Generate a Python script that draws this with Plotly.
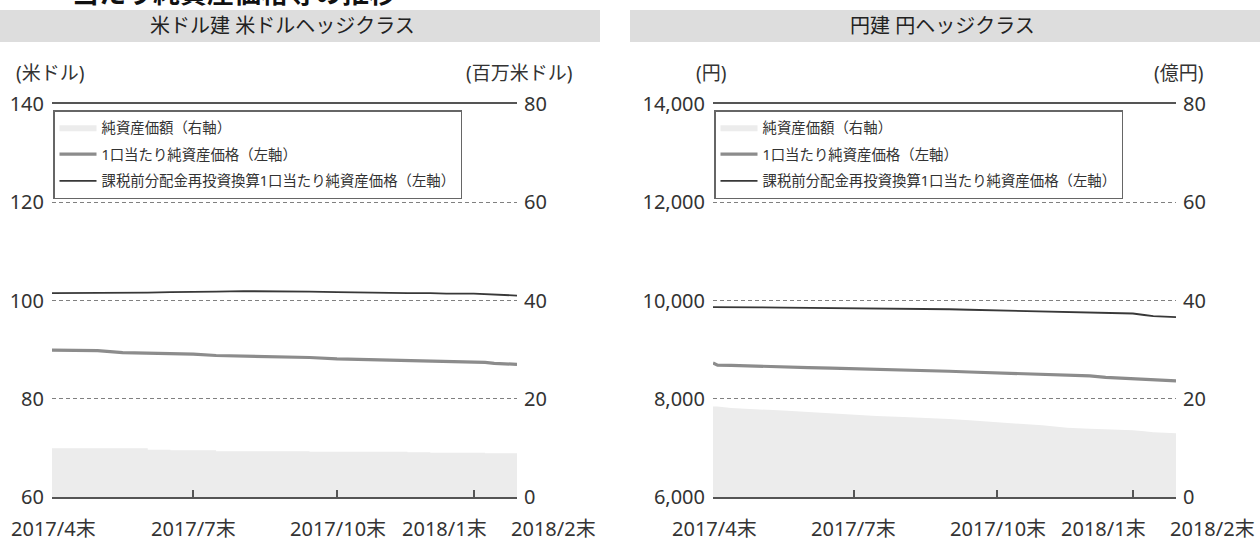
import plotly.graph_objects as go

# ---------------- data ----------------
DATES = ["2017-04-28", "2017-05-02", "2017-05-15", "2017-05-31", "2017-06-15", "2017-06-30",
         "2017-07-14", "2017-07-31", "2017-08-15", "2017-08-31", "2017-09-15", "2017-09-29",
         "2017-10-13", "2017-10-31", "2017-11-15", "2017-11-30", "2017-12-15", "2017-12-29",
         "2018-01-15", "2018-01-31", "2018-02-07", "2018-02-14", "2018-02-28"]

# Japanese market holidays falling on weekdays (non-trading days on the axis)
HOLIDAYS = ["2017-05-03", "2017-05-04", "2017-05-05", "2017-07-17", "2017-08-11",
            "2017-09-18", "2017-10-09", "2017-11-03", "2017-11-23", "2018-01-01",
            "2018-01-02", "2018-01-03", "2018-01-08", "2018-02-12"]

# 米ドル建 米ドルヘッジクラス
USD_ASSETS = [9.9, 9.9, 9.9, 9.9, 9.9, 9.6, 9.5, 9.5, 9.3, 9.3, 9.3, 9.3,
              9.2, 9.2, 9.2, 9.2, 9.1, 9.0, 9.0, 9.0, 8.9, 8.9, 8.9]          # 百万米ドル (right)
USD_NAV = [89.9, 89.9, 89.9, 89.8, 89.4, 89.3, 89.2, 89.1, 88.8, 88.7, 88.6, 88.5,
           88.4, 88.1, 88.0, 87.9, 87.8, 87.7, 87.6, 87.5, 87.4, 87.2, 87.0]  # 米ドル (left)
USD_REINV = [101.5, 101.5, 101.6, 101.6, 101.5, 101.6, 101.7, 101.7, 101.8, 101.9, 101.9, 101.8,
             101.8, 101.7, 101.6, 101.6, 101.5, 101.5, 101.4, 101.4, 101.3, 101.1, 101.0]

# 円建 円ヘッジクラス
JPY_ASSETS = [18.4, 18.4, 18.1, 17.9, 17.6, 17.3, 17.0, 16.7, 16.5, 16.3, 16.1, 15.9,
              15.6, 15.3, 14.9, 14.6, 14.1, 13.9, 13.8, 13.6, 13.4, 13.2, 13.0]  # 億円 (right)
JPY_NAV = [8730, 8685, 8680, 8660, 8645, 8635, 8625, 8615, 8605, 8590, 8575, 8560,
           8545, 8530, 8515, 8505, 8490, 8465, 8435, 8410, 8400, 8385, 8365]     # 円 (left)
JPY_REINV = [9865, 9863, 9862, 9860, 9855, 9852, 9850, 9848, 9845, 9840, 9830, 9822,
             9812, 9800, 9790, 9780, 9765, 9750, 9742, 9735, 9705, 9680, 9660]

XTICK_DATES = ["2017-04-28", "2017-07-31", "2017-10-31", "2018-01-31", "2018-02-28"]
XTICK_LABELS = ["2017/4末", "2017/7末", "2017/10末", "2018/1末", "2018/2末"]
XTICK_SHIFTS = [1, 0, 1, -29, 36]

USD_TICKS = [60, 80, 100, 120, 140]
JPY_TICKS = [6000, 8000, 10000, 12000, 14000]
RIGHT_TICKS = [0, 20, 40, 60, 80]

LEGEND_NAMES = ["純資産価額（右軸）", "1口当たり純資産価格（左軸）",
                "課税前分配金再投資換算1口当たり純資産価格（左軸）"]
PANEL_TITLES = ["米ドル建 米ドルヘッジクラス", "円建 円ヘッジクラス"]
UNITS_LEFT = ["(米ドル)", "(円)"]
UNITS_RIGHT = ["(百万米ドル)", "(億円)"]
TOP_TITLE = "当たり純資産価格等の推移"

# ---------------- style ----------------
W, H = 1260, 543
FONT = "Noto Sans, Noto Sans CJK JP, sans-serif"
TXT = "#333333"
AREA = "#ececec"
GRAY_LINE = "#8c8c8c"
DARK_LINE = "#383838"
AXIS_C = "#555555"
GRID_C = "#808080"

PX_LEFT = [(52, 517), (713, 1176)]
Y_TOP, Y_BOT = 104, 497
ydom = [1 - Y_BOT / H, 1 - Y_TOP / H]

fig = go.Figure()

panels = [
    dict(x="x", yl="y", yr="y2", leg="legend", assets=USD_ASSETS, nav=USD_NAV, reinv=USD_REINV, shape="hv"),
    dict(x="x2", yl="y3", yr="y4", leg="legend2", assets=JPY_ASSETS, nav=JPY_NAV, reinv=JPY_REINV, shape="linear"),
]

for p in panels:
    fig.add_trace(go.Scatter(
        x=DATES, y=p["assets"], xaxis=p["x"], yaxis=p["yr"], mode="lines",
        fill="tozeroy", fillcolor=AREA, line=dict(width=0, color=AREA, shape=p["shape"]),
        name=LEGEND_NAMES[0], legend=p["leg"], legendgroup=p["leg"] + "a", hoverinfo="skip"))
    fig.add_trace(go.Scatter(
        x=DATES, y=p["nav"], xaxis=p["x"], yaxis=p["yl"], mode="lines",
        line=dict(width=3.2, color=GRAY_LINE),
        name=LEGEND_NAMES[1], legend=p["leg"], legendgroup=p["leg"] + "b"))
    fig.add_trace(go.Scatter(
        x=DATES, y=p["reinv"], xaxis=p["x"], yaxis=p["yl"], mode="lines",
        line=dict(width=1.8, color=DARK_LINE),
        name=LEGEND_NAMES[2], legend=p["leg"], legendgroup=p["leg"] + "c"))


def xaxis_cfg(dom, anchor):
    return dict(
        domain=dom, anchor=anchor, type="date", automargin=False,
        range=[DATES[0], DATES[-1]],
        rangebreaks=[dict(bounds=["sat", "mon"]), dict(values=HOLIDAYS)],
        tickmode="array", tickvals=XTICK_DATES, showticklabels=False,
        ticks="inside", ticklen=7, tickwidth=1.5, tickcolor=AXIS_C,
        showline=True, linecolor=AXIS_C, linewidth=2, mirror=True,
        showgrid=False, zeroline=False, fixedrange=True)


def yleft_cfg(anchor, rng, ticks, fmt=None):
    d = dict(
        domain=ydom, anchor=anchor, range=rng, tickmode="array", tickvals=ticks,
        automargin=False,
        showgrid=True, gridcolor=GRID_C, gridwidth=1, griddash="4px,3px",
        ticks="", ticklabelstandoff=7, showline=False, zeroline=False,
        tickfont=dict(size=20, color=TXT, family=FONT), fixedrange=True)
    if fmt:
        d["tickformat"] = fmt
    return d


def yright_cfg(anchor, over):
    return dict(
        overlaying=over, side="right", anchor=anchor, range=[0, 80], automargin=False,
        tickmode="array", tickvals=RIGHT_TICKS, showgrid=False, zeroline=False,
        ticks="", ticklabelstandoff=6, showline=False,
        tickfont=dict(size=20, color=TXT, family=FONT), fixedrange=True)


def legend_cfg(px):
    return dict(
        x=(px + 1) / W, y=1 - 110 / H, xanchor="left", yanchor="top",
        bgcolor="white", bordercolor="#666666", borderwidth=1.5,
        font=dict(size=14.4, color=TXT, family=FONT), itemwidth=37,
        traceorder="grouped", tracegroupgap=5)


shapes = [
    dict(type="rect", xref="paper", yref="paper", x0=0, x1=600 / W,
         y0=1 - 42 / H, y1=1 - 10 / H, fillcolor="#dddddd", line_width=0, layer="below"),
    dict(type="rect", xref="paper", yref="paper", x0=630 / W, x1=1,
         y0=1 - 42 / H, y1=1 - 10 / H, fillcolor="#dddddd", line_width=0, layer="below"),
]

annotations = []
header_cx = [282, 942]
for i in range(2):
    annotations.append(dict(
        text=PANEL_TITLES[i], xref="paper", yref="paper", x=header_cx[i] / W, y=1 - 26 / H,
        xanchor="center", yanchor="middle", showarrow=False,
        font=dict(size=20, color="#222222", family=FONT)))
    l, r = PX_LEFT[i]
    annotations.append(dict(
        text=UNITS_LEFT[i], xref="paper", yref="paper", x=(l - 2) / W, y=1 - 73 / H,
        xanchor="center", yanchor="middle", showarrow=False,
        font=dict(size=19, color=TXT, family=FONT)))
    annotations.append(dict(
        text=UNITS_RIGHT[i], xref="paper", yref="paper", x=(r + 2) / W, y=1 - 73 / H,
        xanchor="center", yanchor="middle", showarrow=False,
        font=dict(size=19, color=TXT, family=FONT)))
    xref = "x" if i == 0 else "x2"
    for d, lab, sh in zip(XTICK_DATES, XTICK_LABELS, XTICK_SHIFTS):
        annotations.append(dict(
            text=lab, xref=xref, yref="paper", x=d, y=0, xshift=sh, borderpad=0,
            xanchor="center", yanchor="bottom", showarrow=False,
            font=dict(size=20, color=TXT, family=FONT)))

# page title, mostly cut off by the top edge as in the source image
annotations.append(dict(
    text=TOP_TITLE, xref="paper", yref="paper", x=70 / W, y=1 + 8 / H,
    xanchor="left", yanchor="middle", showarrow=False,
    font=dict(size=27, color="#111111", family=FONT, weight="bold")))

fig.update_layout(
    width=W, height=H, margin=dict(l=0, r=0, t=0, b=0, autoexpand=False),
    paper_bgcolor="white", plot_bgcolor="white",
    font=dict(family=FONT, color=TXT),
    showlegend=True, hovermode=False,
    xaxis=xaxis_cfg([PX_LEFT[0][0] / W, PX_LEFT[0][1] / W], "y"),
    xaxis2=xaxis_cfg([PX_LEFT[1][0] / W, PX_LEFT[1][1] / W], "y3"),
    yaxis=yleft_cfg("x", [60, 140], USD_TICKS),
    yaxis2=yright_cfg("x", "y"),
    yaxis3=yleft_cfg("x2", [6000, 14000], JPY_TICKS, ","),
    yaxis4=yright_cfg("x2", "y3"),
    legend=legend_cfg(PX_LEFT[0][0]),
    legend2=legend_cfg(PX_LEFT[1][0]),
    shapes=shapes, annotations=annotations,
)

fig.write_html("out.html", config={"displayModeBar": False})
